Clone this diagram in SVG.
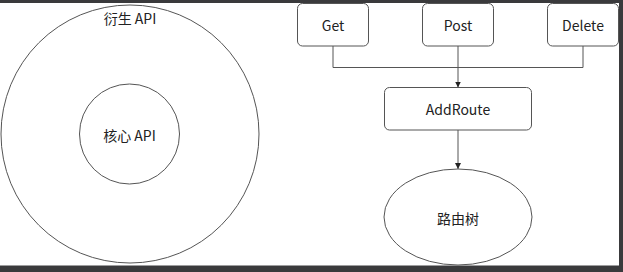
<svg xmlns="http://www.w3.org/2000/svg" width="623" height="272" viewBox="0 0 623 272">
  <style>
    .shape { fill: #ffffff; stroke: #555555; stroke-width: 1; }
    .label { font-family: "Noto Sans CJK SC", "Noto Sans", sans-serif; font-size: 14px; fill: #222222; text-anchor: middle; dominant-baseline: central; }
    .wire { fill: none; stroke: #555555; stroke-width: 1; }
  </style>
  <defs>
    <marker id="arrow" viewBox="0 0 6 6" refX="6" refY="3" markerWidth="6" markerHeight="6" orient="auto" markerUnits="userSpaceOnUse">
      <path d="M0,0 L6,3 L0,6 Z" fill="#222222"/>
    </marker>
  </defs>

  <!-- canvas -->
  <rect x="0" y="0" width="623" height="272" fill="#3a3a3c"/>
  <rect x="0" y="3" width="619" height="262.5" fill="#ffffff"/>

  <!-- API layers -->
  <g id="derived-api">
    <circle class="shape" cx="130" cy="134" r="129"/>
    <text class="label" x="130" y="18">衍生 API</text>
  </g>
  <g id="core-api">
    <circle class="shape" cx="129.5" cy="134" r="50"/>
    <text class="label" x="129.5" y="135">核心 API</text>
  </g>

  <!-- connectors -->
  <g id="connectors">
    <path class="wire" d="M333,46 V67.5 H583 V46"/>
    <path class="wire" d="M458,46 V87.5" marker-end="url(#arrow)"/>
    <path class="wire" d="M458,130 V169" marker-end="url(#arrow)"/>
  </g>

  <!-- HTTP methods -->
  <g id="get">
    <rect class="shape" x="297.5" y="3.5" width="71" height="42.5" rx="5"/>
    <text class="label" x="333" y="25">Get</text>
  </g>
  <g id="post">
    <rect class="shape" x="422.5" y="3.5" width="71" height="42.5" rx="5"/>
    <text class="label" x="458" y="25">Post</text>
  </g>
  <g id="delete">
    <rect class="shape" x="547.5" y="3.5" width="71" height="42.5" rx="5"/>
    <text class="label" x="583" y="25">Delete</text>
  </g>

  <g id="addroute">
    <rect class="shape" x="384.5" y="87.5" width="147" height="42.5" rx="5"/>
    <text class="label" x="458" y="109">AddRoute</text>
  </g>

  <g id="route-tree">
    <ellipse class="shape" cx="458" cy="217" rx="74" ry="48"/>
    <text class="label" x="458" y="218">路由树</text>
  </g>
</svg>
